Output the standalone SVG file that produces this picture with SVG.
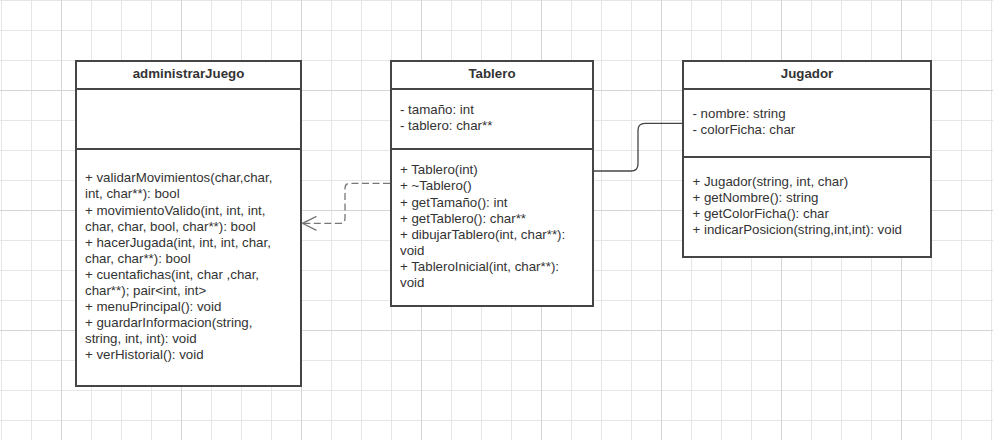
<svg xmlns="http://www.w3.org/2000/svg" width="993" height="440" viewBox="0 0 993 440">
<style>
.grid{stroke:#e6e6e6;stroke-width:1;fill:none}
.grid2{stroke:#d4d4d4;stroke-width:1;fill:none}
.box{fill:#ffffff;stroke:#454545;stroke-width:2}
.div{stroke:#454545;stroke-width:2;fill:none}
.title{font-family:"Liberation Sans",Arial,sans-serif;font-size:13.3px;font-weight:bold;fill:#333333;text-anchor:middle}
.t{font-family:"Liberation Sans",Arial,sans-serif;font-size:13.3px;fill:#333333}
.dash{fill:none;stroke:#777777;stroke-width:1.3;stroke-dasharray:7 3.5}
.solid{fill:none;stroke:#454545;stroke-width:1.3}
</style>
<defs>
<marker id="open" markerUnits="userSpaceOnUse" markerWidth="16" markerHeight="18" refX="15" refY="8" orient="auto" viewBox="0 0 16 18">
<path d="M1,1 L15,8 L1,15" fill="none" stroke="#777777" stroke-width="1.3"/>
</marker>
</defs>
<rect width="993" height="440" fill="#ffffff"/>
<g id="grid">
<path class="grid" d="M1.5,0V440M31.5,0V440M91.5,0V440M121.5,0V440M151.5,0V440M211.5,0V440M241.5,0V440M271.5,0V440M331.5,0V440M361.5,0V440M391.5,0V440M451.5,0V440M481.5,0V440M511.5,0V440M571.5,0V440M601.5,0V440M631.5,0V440M691.5,0V440M721.5,0V440M751.5,0V440M811.5,0V440M841.5,0V440M871.5,0V440M931.5,0V440M961.5,0V440M991.5,0V440M0,0.5H993M0,30.5H993M0,60.5H993M0,120.5H993M0,150.5H993M0,180.5H993M0,240.5H993M0,270.5H993M0,300.5H993M0,360.5H993M0,390.5H993M0,420.5H993"/>
<path class="grid2" d="M61.5,0V440M181.5,0V440M301.5,0V440M421.5,0V440M541.5,0V440M661.5,0V440M781.5,0V440M901.5,0V440M0,90.5H993M0,210.5H993M0,330.5H993"/>
</g>
<g id="administrarJuego">
<rect class="box" x="76" y="61" width="225" height="325"/>
<path class="div" d="M76,89H301M76,149H301"/>
<text class="title" x="188.5" y="78">administrarJuego</text>
<text class="t" x="85" y="182.3">+ validarMovimientos(char,char,</text>
<text class="t" x="85" y="198.4">int, char**): bool</text>
<text class="t" x="85" y="214.5">+ movimientoValido(int, int, int,</text>
<text class="t" x="85" y="230.6">char, char, bool, char**): bool</text>
<text class="t" x="85" y="246.7">+ hacerJugada(int, int, int, char,</text>
<text class="t" x="85" y="262.8">char, char**): bool</text>
<text class="t" x="85" y="278.9">+ cuentafichas(int, char ,char,</text>
<text class="t" x="85" y="295">char**); pair&lt;int, int&gt;</text>
<text class="t" x="85" y="311.1">+ menuPrincipal(): void</text>
<text class="t" x="85" y="327.2">+ guardarInformacion(string,</text>
<text class="t" x="85" y="343.3">string, int, int): void</text>
<text class="t" x="85" y="359.4">+ verHistorial(): void</text>
</g>
<g id="Tablero">
<rect class="box" x="391" y="61" width="202" height="245"/>
<path class="div" d="M391,89H593M391,149H593"/>
<text class="title" x="492" y="78">Tablero</text>
<text class="t" x="400" y="113.7">- tamaño: int</text>
<text class="t" x="400" y="129.7">- tablero: char**</text>
<text class="t" x="400" y="174.3">+ Tablero(int)</text>
<text class="t" x="400" y="190.4">+ ~Tablero()</text>
<text class="t" x="400" y="206.5">+ getTamaño(): int</text>
<text class="t" x="400" y="222.6">+ getTablero(): char**</text>
<text class="t" x="400" y="238.7">+ dibujarTablero(int, char**):</text>
<text class="t" x="400" y="254.8">void</text>
<text class="t" x="400" y="270.9">+ TableroInicial(int, char**):</text>
<text class="t" x="400" y="287">void</text>
</g>
<g id="Jugador">
<rect class="box" x="683" y="61" width="248" height="196"/>
<path class="div" d="M683,89H931M683,157H931"/>
<text class="title" x="807" y="78">Jugador</text>
<text class="t" x="692.5" y="118.3">- nombre: string</text>
<text class="t" x="692.5" y="134.2">- colorFicha: char</text>
<text class="t" x="692.5" y="186">+ Jugador(string, int, char)</text>
<text class="t" x="692.5" y="202.1">+ getNombre(): string</text>
<text class="t" x="692.5" y="218.2">+ getColorFicha(): char</text>
<text class="t" x="692.5" y="234.3">+ indicarPosicion(string,int,int): void</text>
</g>
<g id="connectors">
<path class="dash" d="M390,183.3 H350 Q345,183.3 345,188.3 V218.3 Q345,223.3 340,223.3 H302.5" marker-end="url(#open)"/>
<path class="solid" d="M594,171 H631 Q638,171 638,164 V130.3 Q638,123.3 645,123.3 H682"/>
</g>
</svg>
